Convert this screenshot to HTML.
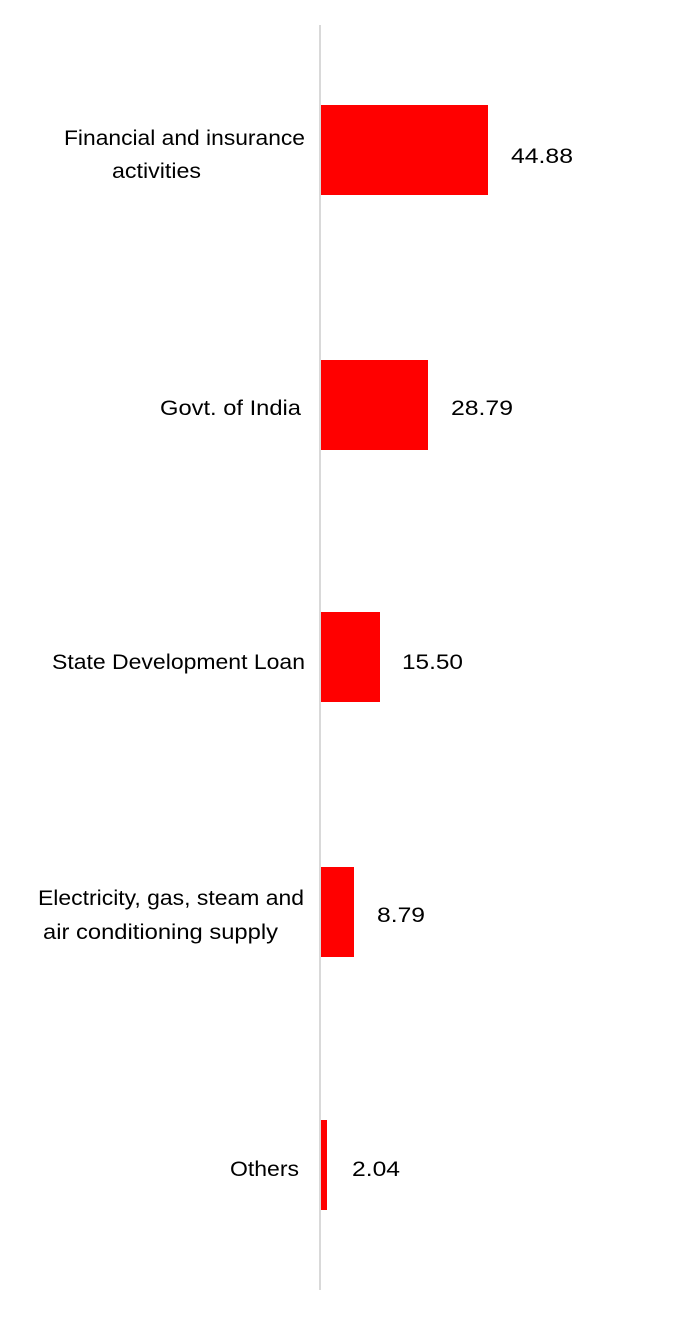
<!DOCTYPE html>
<html><head><style>html,body{margin:0;padding:0;background:#fff}</style></head>
<body>
<svg width="691" height="1318" xmlns="http://www.w3.org/2000/svg" font-family="Liberation Sans, sans-serif" font-size="21" fill="#000">
<rect x="319" y="25" width="2" height="1265" fill="#d9d9d9"/>
<rect x="321" y="105" width="167" height="90" fill="#ff0000"/>
<rect x="321" y="360" width="107" height="90" fill="#ff0000"/>
<rect x="321" y="612" width="59" height="90" fill="#ff0000"/>
<rect x="321" y="867" width="33" height="90" fill="#ff0000"/>
<rect x="321" y="1120" width="6" height="90" fill="#ff0000"/>
<text x="64" y="145" textLength="241" lengthAdjust="spacingAndGlyphs">Financial and insurance</text>
<text x="112" y="178" textLength="89" lengthAdjust="spacingAndGlyphs">activities</text>
<text x="160" y="415" textLength="141" lengthAdjust="spacingAndGlyphs">Govt. of India</text>
<text x="52" y="669" textLength="253" lengthAdjust="spacingAndGlyphs">State Development Loan</text>
<text x="38" y="905" textLength="266" lengthAdjust="spacingAndGlyphs">Electricity, gas, steam and</text>
<text x="43" y="939" textLength="235" lengthAdjust="spacingAndGlyphs">air conditioning supply</text>
<text x="230" y="1176" textLength="69" lengthAdjust="spacingAndGlyphs">Others</text>
<text x="511" y="163" textLength="62" lengthAdjust="spacingAndGlyphs">44.88</text>
<text x="451" y="415" textLength="62" lengthAdjust="spacingAndGlyphs">28.79</text>
<text x="402" y="669" textLength="61" lengthAdjust="spacingAndGlyphs">15.50</text>
<text x="377" y="922" textLength="48" lengthAdjust="spacingAndGlyphs">8.79</text>
<text x="352" y="1176" textLength="48" lengthAdjust="spacingAndGlyphs">2.04</text>
</svg>
</body></html>
